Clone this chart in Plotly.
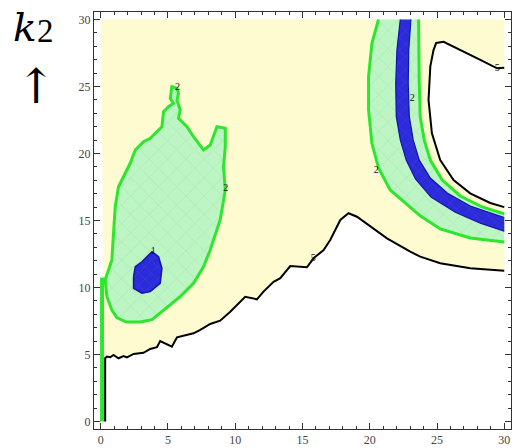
import plotly.graph_objects as go

# ---------------- data (data units) ----------------
X_RANGE = [-0.5, 30.5]
Y_RANGE = [-0.56, 30.56]
TICK_VALS = [0, 5, 10, 15, 20, 25, 30]
TICK_TEXT = ["0", "5", "10", "15", "20", "25", "30"]

# lower level-5 contour (black)
LOWER_X = [0.33, 0.33, 0.46, 0.71, 0.95, 1.32, 1.70, 1.95, 2.44, 3.18, 3.68, 4.18, 4.42, 4.80, 5.29,
           5.67, 6.90, 7.40, 8.14, 8.88, 9.63, 10.74, 11.61, 12.10, 12.85, 13.35, 14.09, 15.33, 15.82,
           16.57, 17.06, 17.81, 18.42, 19.05, 20.04, 21.28, 23.01, 23.75, 25.24, 27.47, 30.0]
LOWER_Y = [0.0, 4.72, 4.84, 4.79, 4.96, 4.72, 4.89, 4.79, 5.04, 5.13, 5.41, 5.54, 6.0, 5.84, 5.58,
           6.28, 6.58, 6.83, 7.28, 7.52, 8.19, 9.31, 9.12, 9.69, 10.43, 10.69, 11.6, 11.51, 12.18,
           12.80, 13.54, 15.04, 15.54, 15.28, 14.54, 13.67, 12.67, 12.30, 11.81, 11.43, 11.25]

# upper-right level-5 contour (black)
UPPER_X = [30.0, 29.46, 28.22, 26.73, 25.49, 24.94, 24.74, 24.50, 24.37, 24.62, 25.24, 26.23, 27.47, 28.96, 30.0]
UPPER_Y = [26.40, 26.36, 26.98, 27.72, 28.34, 28.25, 27.72, 26.48, 23.99, 21.51, 19.51, 18.02, 17.03, 16.31, 16.0]

# left island, level-2 contour (green)
BLOB_X = [0.33, 0.83, 0.95, 1.08, 1.32, 1.58, 2.19, 2.57, 3.18, 3.68, 4.55, 4.67, 5.04, 5.41, 5.17, 5.29,
          5.67, 5.78, 5.67, 5.91, 5.78, 6.41, 6.90, 7.64, 8.14, 8.64, 9.26, 9.26, 9.13, 9.26, 8.88, 8.40,
          8.14, 7.64, 6.90, 5.91, 5.20, 4.67, 3.81, 2.94, 1.90, 1.20, 0.83, 0.46, 0.33]
BLOB_Y = [10.56, 12.05, 14.04, 16.03, 17.52, 18.02, 19.27, 20.26, 20.88, 21.13, 22.0, 23.12, 23.49, 23.75,
          24.12, 24.99, 24.87, 24.49, 23.99, 23.25, 22.63, 22.0, 21.25, 20.26, 20.63, 22.0, 21.88, 20.51,
          19.01, 17.28, 15.04, 13.6, 12.8, 11.55, 10.31, 9.31, 8.75, 8.32, 7.6, 7.42, 7.42, 7.75, 8.32,
          9.31, 10.56]
SPUR_X = [0.10, 0.10, 0.45]
SPUR_Y = [0.0, 10.6, 10.6]

# left island, level-1 contour (blue)
CORE_X = [2.44, 2.57, 3.06, 3.81, 4.30, 4.55, 4.42, 3.68, 3.06, 2.44, 2.44]
CORE_Y = [10.81, 11.55, 11.92, 12.67, 12.30, 11.43, 10.31, 9.69, 9.57, 9.94, 10.81]

# right band: outer and inner level-2 contours (green)
OUTER2_X = [20.65, 20.16, 19.91, 19.91, 20.16, 20.65, 21.52, 22.77, 23.75, 25.24, 27.47, 30.0]
OUTER2_Y = [30.0, 28.22, 25.73, 23.25, 20.76, 18.92, 17.28, 16.16, 15.35, 14.37, 13.69, 13.40]
INNER2_X = [23.63, 23.64, 23.68, 23.75, 24.05, 24.50, 25.39, 26.73, 28.36, 30.0]
INNER2_Y = [30.0, 27.72, 25.24, 22.75, 21.01, 19.51, 18.02, 16.83, 16.01, 15.49]

# right band: level-1 contours (blue)
BLUE_L_X = [22.27, 22.02, 21.93, 21.97, 22.27, 22.71, 23.40, 24.55, 26.36, 28.22, 30.0]
BLUE_L_Y = [30.0, 27.72, 25.24, 22.75, 21.01, 19.51, 18.10, 16.75, 15.62, 14.80, 14.20]
BLUE_R_X = [23.06, 22.90, 22.86, 22.94, 23.23, 23.68, 24.50, 25.76, 27.47, 30.0]
BLUE_R_Y = [30.0, 27.72, 25.24, 22.75, 21.01, 19.51, 18.17, 17.05, 16.08, 15.22]

# contour labels
LABEL_TEXT = ["2", "2", "2", "2", "5", "5", "1"]
LABEL_X = [5.70, 9.30, 23.16, 20.48, 29.48, 15.80, 3.90]
LABEL_Y = [24.95, 17.40, 24.14, 18.70, 26.38, 12.20, 12.65]

FRAME = dict(x0=0.0, x1=30.0, y0=0.0, y1=30.0)

# ---------------- styles ----------------
YELLOW = "#FFFBD0"
MINT = "#BDF5C5"
MINT_DOT = "#7CD88A"
GREEN = "#2EE62E"
BLUE = "#2B2BD9"
BLUE_DOT = "#6A6AE8"
BLUE_EDGE = "#1414A8"

fig = go.Figure()

# yellow region above the lower contour
fig.add_trace(go.Scatter(
    x=[FRAME["x0"]] + LOWER_X + [FRAME["x1"], FRAME["x0"]],
    y=[FRAME["y1"]] + LOWER_Y + [FRAME["y1"], FRAME["y1"]],
    fill="toself", fillcolor=YELLOW, line=dict(width=0), mode="lines", hoverinfo="skip"))

# white region inside the upper-right contour
fig.add_trace(go.Scatter(x=UPPER_X, y=UPPER_Y, fill="toself", fillcolor="white",
                         line=dict(width=0), mode="lines", hoverinfo="skip"))

pattern_g = dict(shape="x", size=13, solidity=0.07, fgcolor=MINT_DOT, bgcolor=MINT)
pattern_b = dict(shape="x", size=9, solidity=0.08, fgcolor=BLUE_DOT, bgcolor=BLUE)

# right band light green
fig.add_trace(go.Scatter(x=OUTER2_X + INNER2_X[::-1], y=OUTER2_Y + INNER2_Y[::-1],
                         fill="toself", fillcolor=MINT, fillpattern=pattern_g,
                         line=dict(width=0), mode="lines", hoverinfo="skip"))
# right band blue
fig.add_trace(go.Scatter(x=BLUE_L_X + BLUE_R_X[::-1], y=BLUE_L_Y + BLUE_R_Y[::-1],
                         fill="toself", fillcolor=BLUE, fillpattern=pattern_b,
                         line=dict(width=0), mode="lines", hoverinfo="skip"))
for bx, by in [(BLUE_L_X, BLUE_L_Y), (BLUE_R_X, BLUE_R_Y)]:
    fig.add_trace(go.Scatter(x=bx, y=by, mode="lines", line=dict(color=BLUE_EDGE, width=1.2),
                             hoverinfo="skip"))
for gx, gy in [(OUTER2_X, OUTER2_Y), (INNER2_X, INNER2_Y)]:
    fig.add_trace(go.Scatter(x=gx, y=gy, mode="lines", line=dict(color=GREEN, width=3),
                             hoverinfo="skip"))

# left island
fig.add_trace(go.Scatter(x=BLOB_X, y=BLOB_Y, fill="toself", fillcolor=MINT, fillpattern=pattern_g,
                         line=dict(color=GREEN, width=3), mode="lines", hoverinfo="skip"))
fig.add_trace(go.Scatter(x=SPUR_X, y=SPUR_Y, mode="lines", line=dict(color=GREEN, width=4),
                         hoverinfo="skip"))
fig.add_trace(go.Scatter(x=CORE_X, y=CORE_Y, fill="toself", fillcolor=BLUE, fillpattern=pattern_b,
                         line=dict(color=BLUE_EDGE, width=1.5), mode="lines", hoverinfo="skip"))

# black level-5 contours
fig.add_trace(go.Scatter(x=LOWER_X, y=LOWER_Y, mode="lines", line=dict(color="black", width=2),
                         hoverinfo="skip"))
fig.add_trace(go.Scatter(x=UPPER_X, y=UPPER_Y, mode="lines", line=dict(color="black", width=2),
                         hoverinfo="skip"))

# contour labels
fig.add_trace(go.Scatter(x=LABEL_X, y=LABEL_Y, mode="text", text=LABEL_TEXT,
                         textfont=dict(family="Liberation Serif", size=10, color="#111"),
                         hoverinfo="skip"))

axis_common = dict(
    showgrid=False, zeroline=False, showline=True, linecolor="#333", linewidth=1, mirror="allticks",
    ticks="inside", ticklen=6, tickwidth=1, tickcolor="#333",
    tickvals=TICK_VALS, ticktext=TICK_TEXT,
    tickfont=dict(family="Liberation Serif", size=12, color="#444"),
    minor=dict(ticks="inside", ticklen=3, dtick=1, tick0=0, tickcolor="#333", showgrid=False),
)
fig.update_xaxes(range=X_RANGE, **axis_common)
fig.update_yaxes(range=Y_RANGE, **axis_common)

fig.update_layout(
    width=513, height=448,
    margin=dict(l=94, r=2, t=12, b=19),
    paper_bgcolor="white", plot_bgcolor="white",
    showlegend=False,
    annotations=[
        dict(text="<i>k</i>", xref="paper", yref="paper", x=-0.166, y=0.963, showarrow=False,
             xanchor="center", yanchor="middle",
             font=dict(family="DejaVu Serif", size=39, color="black")),
        dict(text="2", xref="paper", yref="paper", x=-0.116, y=0.955, showarrow=False,
             xanchor="center", yanchor="middle",
             font=dict(family="Liberation Serif", size=33, color="black")),
        dict(text="↑", xref="paper", yref="paper", x=-0.139, y=0.822, showarrow=False,
             xanchor="center", yanchor="middle",
             font=dict(family="DejaVu Serif", size=48, color="black")),
    ],
)

# remove the default page margin so the 513x448 figure fills the window exactly
fig.write_html("out.html", config={"displayModeBar": False},
               post_script="document.body.style.margin='0px';document.body.style.overflow='hidden';")
